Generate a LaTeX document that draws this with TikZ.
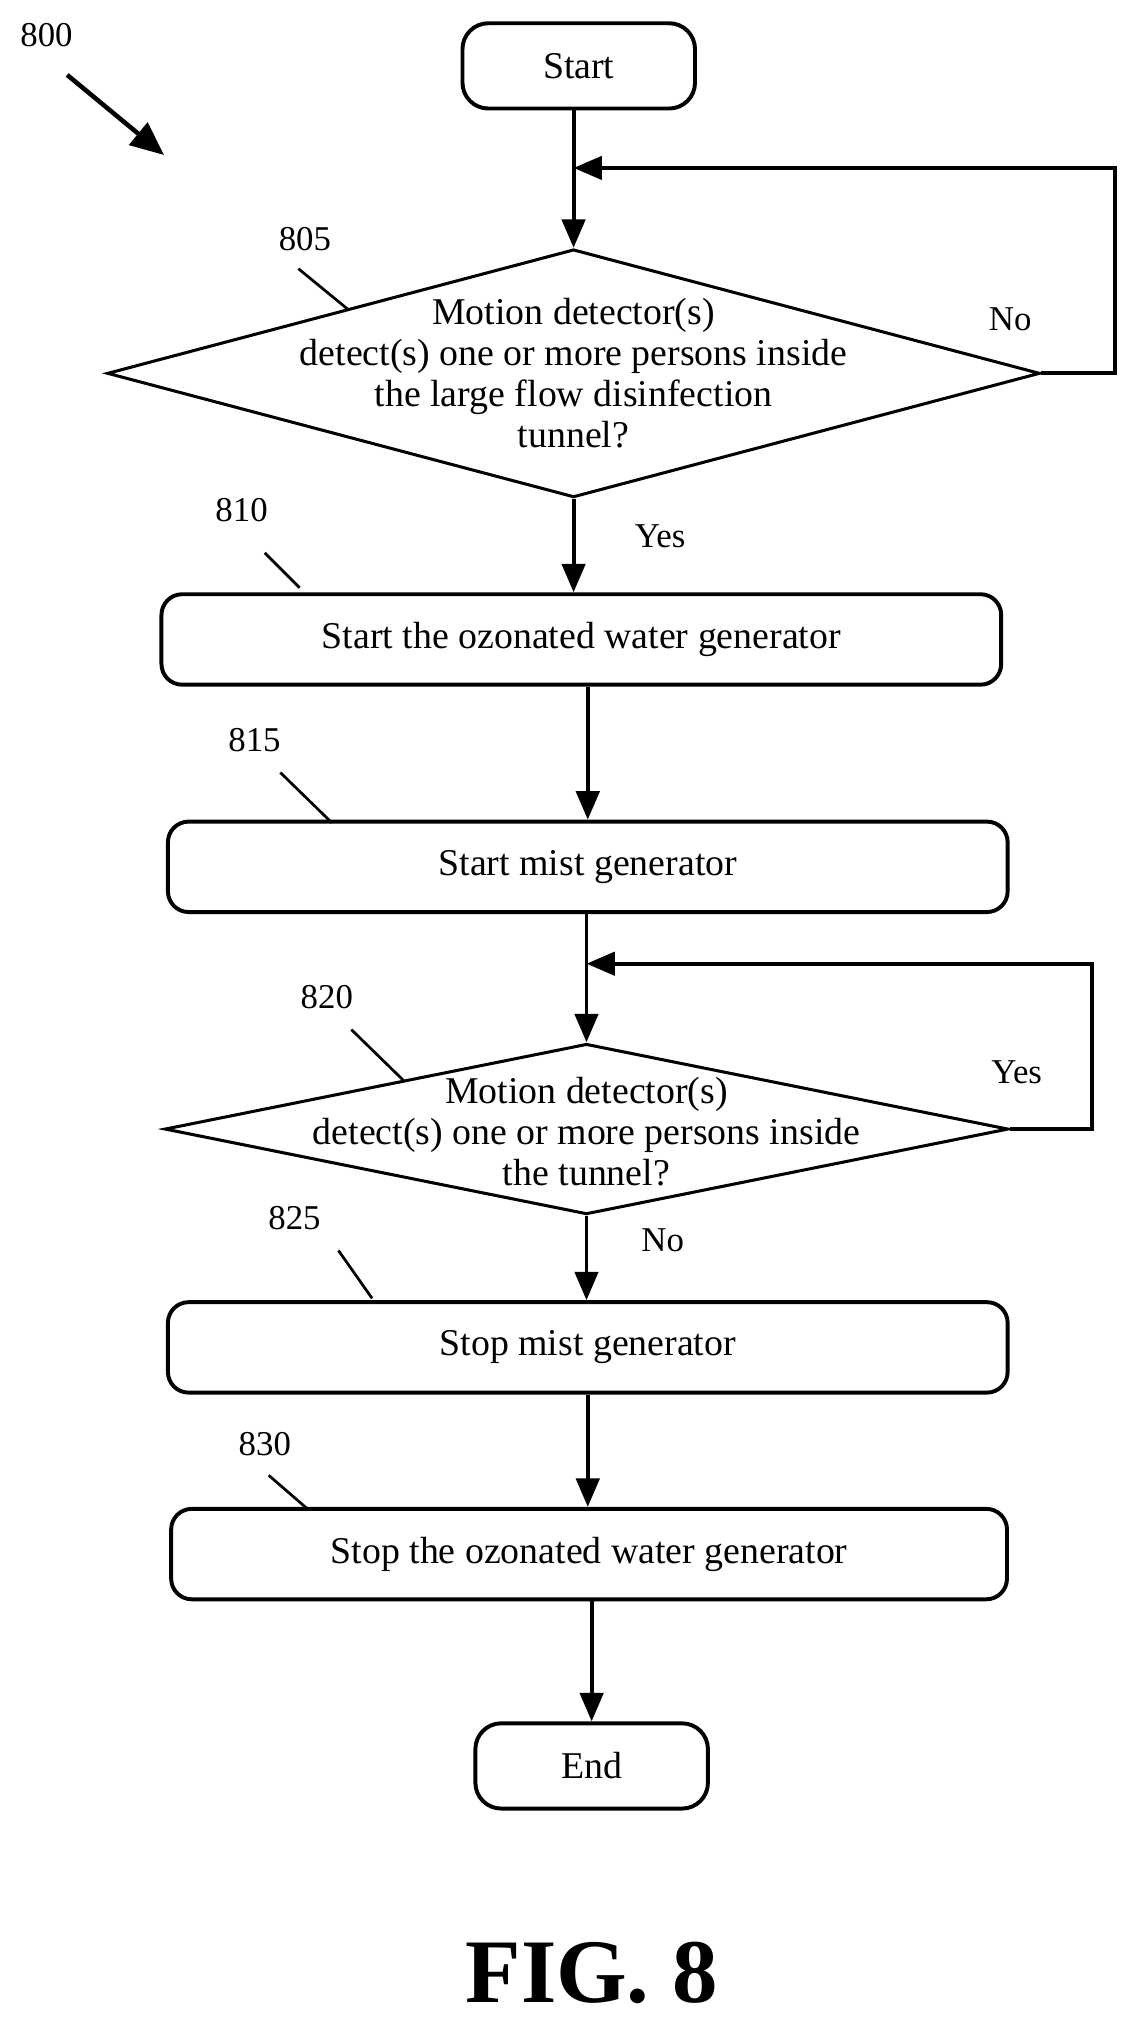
\documentclass[tikz,border=0pt]{standalone}
\usepackage{fontspec}
\setmainfont{Liberation Serif}
\usetikzlibrary{shapes.geometric,arrows.meta}
\begin{document}
\begin{tikzpicture}[x=0.03cm,y=-0.03cm,line width=2.6pt,
  font=\fontsize{25}{27}\selectfont,
  term/.style={draw,rounded corners=0.6cm,minimum width=5.4cm,minimum height=1.98cm,inner sep=0},
  box/.style={draw,rounded corners=0.48cm,minimum width=19.5cm,minimum height=2.1cm,inner sep=0},
  dia/.style={draw,diamond,inner sep=0,line width=2pt},
  arr/.style={-{Triangle[length=0.66cm,width=0.54cm]}},
  tick/.style={line width=1.8pt},
  lab/.style={font=\fontsize{23}{26}\selectfont}]
\useasboundingbox (0,0) rectangle (880,1566);
\node[term] (start) at (448,51) {Start};
\node[dia,minimum width=21.66cm,minimum height=5.76cm] (d1) at (444,289) {};
\node[align=center] (t1) at (444,289) {Motion detector(s)\\detect(s) one or more persons inside\\the large flow disinfection\\tunnel?};
\node[box] (b810) at (450,495) {Start the ozonated water generator};
\node[box] (b815) at (455,671) {Start mist generator};
\node[dia,minimum width=19.59cm,minimum height=3.96cm] (d2) at (454,874) {};
\node[align=center] (t2) at (454,876) {Motion detector(s)\\detect(s) one or more persons inside\\the tunnel?};
\node[box] (b825) at (455,1043) {Stop mist generator};
\node[box,minimum width=19.41cm] (b830) at (456,1203) {Stop the ozonated water generator};
\node[term] (end) at (458,1367) {End};
\coordinate (c1) at (863,289); \coordinate (c2) at (863,130); \coordinate (c3) at (444,130);
\coordinate (e1) at (845,874); \coordinate (e2) at (845,746); \coordinate (e3) at (454,746);
\draw[arr] (start.south -| d1.north) -- (d1.north);
\draw[arr] (d1.east) -- (c1) -- (c2) -- (c3);
\draw[arr] (d1.south) -- (d1.south |- b810.north);
\draw[arr] (b810.south -| b815.north) -- (b815.north);
\draw[arr] (b815.south -| d2.north) -- (d2.north);
\draw[arr] (d2.east) -- (e1) -- (e2) -- (e3);
\draw[arr] (d2.south) -- (d2.south |- b825.north);
\draw[arr] (b825.south) -- (b825.south |- b830.north);
\draw[arr] (b830.south -| end.north) -- (end.north);
\node[lab] (no1) at (782,247) {No};
\node[lab] (yes1) at (511,415) {Yes};
\node[lab] (yes2) at (787,830) {Yes};
\node[lab] (no2) at (513,960) {No};
\node[lab] (l800) at (36,27) {800};
\node[lab] (l805) at (236,185) {805};
\node[lab] (l810) at (187,395) {810};
\node[lab] (l815) at (197,573) {815};
\node[lab] (l820) at (253,772) {820};
\node[lab] (l825) at (228,943) {825};
\node[lab] (l830) at (205,1118) {830};
\coordinate (a800) at (127,120);
\draw[line width=3pt,-{Triangle[length=0.78cm,width=0.66cm]}] (52,58) -- (a800);
\draw[tick] (231,208) -- (270,240);
\draw[tick] (205,428) -- (232,455);
\draw[tick] (217,598) -- (257,637);
\draw[tick] (272,797) -- (313,837);
\draw[tick] (262,968) -- (288,1005);
\draw[tick] (208,1142) -- (238,1168);
\node[font=\fontsize{60}{66}\selectfont\bfseries] (fig) at (458,1527) {FIG. 8};
\end{tikzpicture}
\end{document}
